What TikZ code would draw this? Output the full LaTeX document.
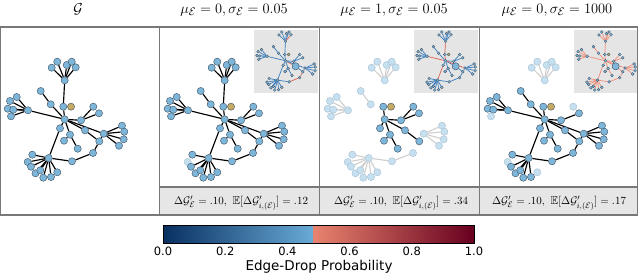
\documentclass[tikz,border=0pt]{standalone}
\usepackage{amssymb}
\usepackage{fontspec}
\newfontfamily\cbfont{DejaVu Sans}
\pgfdeclarelayer{bg}
\pgfdeclarelayer{edges}
\pgfsetlayers{bg,edges,main}
\definecolor{nodec}{RGB}{125,182,217}
\definecolor{nodeb}{RGB}{60,80,100}
\definecolor{tanc}{RGB}{198,170,100}
\definecolor{fadec}{RGB}{198,224,240}
\definecolor{fadeb}{RGB}{165,192,212}
\definecolor{fadee}{RGB}{208,208,208}
\definecolor{framec}{RGB}{120,120,120}
\definecolor{stripc}{RGB}{230,230,230}
\definecolor{insetc}{RGB}{229,229,229}
\definecolor{blueE}{RGB}{55,125,190}
\definecolor{redE}{RGB}{220,95,80}
\definecolor{salE}{RGB}{238,140,120}
\definecolor{cbA}{RGB}{8,48,97}
\definecolor{cbB}{RGB}{40,110,178}
\definecolor{cbC}{RGB}{105,170,214}
\definecolor{cbD}{RGB}{232,132,110}
\definecolor{cbE}{RGB}{200,50,55}
\definecolor{cbF}{RGB}{103,0,31}
\def\nodelist{T/64.7/80.3, t1/57.3/61.7, t2/51.7/67.7, t3/66.7/65, t4/71.7/61.7, t5/75.7/67.3, a/40.7/91, b/50.7/104.3, u/63.3/106.7, g/71/106.7, L/28/110.3, l1/16.7/97, l2/10/101, l3/7.7/108.7, l4/13.3/109.7, l5/11/116.3, C/64.7/119.3, r/93.3/106.7, s/99/113.3, q/81/120.3, c1/60/128.3, c2/70/134.7, d/85/130.3, R/103.7/133.7, r1/122/125.7, r2/124.3/131.7, r3/123.7/139.3, r4/119/145.7, c3/64/140.7, c4/77.7/148.7, w1/99.3/141.3, w2/93/153, w3/72/161.3, B/48.7/158, b1/32.3/154.7, b2/27.7/162, b3/31/166.7, b4/35.5/173.3, b5/40.3/170.3, b6/43.3/177.7, b7/51/177, b8/57.3/172.3}
\def\edgelist{T/t1, T/t2, T/t3, T/t4, T/t5, T/u, u/C, a/b, b/C, L/l1, L/l2, L/l3, L/l4, L/l5, L/C, C/q, q/r, q/s, C/c1, C/c2, C/d, C/R, d/w1, w1/R, w1/w2, w2/w3, w3/B, R/r1, R/r2, R/r3, R/r4, c2/c3, c2/c4, B/c1, B/b1, B/b2, B/b3, B/b4, B/b5, B/b6, B/b7, B/b8}
\newcommand{\drawgraph}[3]{%
  \foreach \n/\x/\y in \nodelist {\node[#2, n\n/.try] (#1\n) at (\x,\y) {};}
  \begin{pgfonlayer}{edges}
  \foreach \a/\b in \edgelist {\draw[#3, e\a\b/.try] (#1\a) -- (#1\b);}
  \end{pgfonlayer}}
\tikzset{
  nd/.style={circle, minimum size=7.2pt, inner sep=0pt, fill=nodec, draw=nodeb, line width=0.4pt},
  ind/.style={circle, minimum size=2.9pt, inner sep=0pt, fill=nodec, draw=nodeb, line width=0.3pt},
  ed/.style={line width=1.15pt, draw=black},
  ie/.style={line width=0.7pt, draw=blueE},
  se/.style={line width=0.7pt, draw=salE},
  fd/.style={fill=fadec, draw=fadeb},
  fe/.style={draw=fadee},
  hid/.style={draw=none},
  redI/.style={draw=redE},
  ng/.style={fill=tanc},
  frame/.style={draw=framec, line width=1.2pt},
  ttl/.style={anchor=base, font=\fontsize{15}{17}\selectfont},
  stt/.style={anchor=base, font=\fontsize{11.4}{13}\selectfont},
  cbl/.style={anchor=base, font=\cbfont\fontsize{11.5}{13}\selectfont},
  cbt/.style={anchor=base, font=\cbfont\fontsize{13.5}{15}\selectfont}
}
\begin{document}
\begin{tikzpicture}[x=1pt, y=-1pt]
\useasboundingbox (0,0) rectangle (640,274);
% frames and strips
\begin{pgfonlayer}{bg}
\fill[white] (0,0) rectangle (640,274);
\fill[insetc] (253.5,29.5) rectangle (317.5,92.5);
\fill[insetc] (413.5,29.5) rectangle (477.5,92.5);
\fill[insetc] (573.5,29.5) rectangle (637,92.5);
\end{pgfonlayer}
\draw[frame] (0.6,27) rectangle (159.5,215);
\draw[frame] (159.5,27) rectangle (319.5,215);
\draw[frame] (319.5,27) rectangle (479.5,215);
\draw[frame] (479.5,27) rectangle (637.5,215);
\draw[frame, fill=stripc] (159.5,187) rectangle (319.5,215);
\draw[frame, fill=stripc] (319.5,187) rectangle (479.5,215);
\draw[frame, fill=stripc] (479.5,187) rectangle (637.5,215);
% titles
\node[ttl] (h1) at (78,13) {$\mathcal{G}$};
\node[ttl] (h2) at (234,13) {$\mu_{\mathcal{E}} = 0, \sigma_{\mathcal{E}} = 0.05$};
\node[ttl] (h3) at (394,13) {$\mu_{\mathcal{E}} = 1, \sigma_{\mathcal{E}} = 0.05$};
\node[ttl] (h4) at (557,13) {$\mu_{\mathcal{E}} = 0, \sigma_{\mathcal{E}} = 1000$};
% strip texts
\node[stt] (s2) at (241,204.5) {$\Delta\mathcal{G}'_{\mathcal{E}} = .10,\ \mathbb{E}[\Delta\mathcal{G}'_{i,(\mathcal{E})}] = .12$};
\node[stt] (s3) at (401,204.5) {$\Delta\mathcal{G}'_{\mathcal{E}} = .10,\ \mathbb{E}[\Delta\mathcal{G}'_{i,(\mathcal{E})}] = .34$};
\node[stt] (s4) at (559,204.5) {$\Delta\mathcal{G}'_{\mathcal{E}} = .10,\ \mathbb{E}[\Delta\mathcal{G}'_{i,(\mathcal{E})}] = .17$};
% panel 1
\begin{scope}
\drawgraph{p1}{nd}{ed}
\end{scope}
% panel 2
\begin{scope}[shift={(160,0)}, nb2/.style=fd, eBb2/.style=hid]
\drawgraph{p2}{nd}{ed}
\end{scope}
\begin{scope}[shift={(253.15,1.15)}, scale=0.5, eTt5/.style=redI, eCd/.style=redI, ew1w2/.style=redI, ew2w3/.style=redI]
\drawgraph{i2}{ind}{ie}
\end{scope}
% panel 3
\begin{scope}[shift={(320,0)},
  nT/.style=fd, nt1/.style=fd, nt2/.style=fd, nt3/.style=fd, nt4/.style=fd, nt5/.style=fd,
  na/.style=fd, nb/.style=fd, nL/.style=fd, nl1/.style=fd, nl2/.style=fd, nl3/.style=fd, nl4/.style=fd, nl5/.style=fd,
  nR/.style=fd, nr1/.style=fd, nr2/.style=fd, nr3/.style=fd, nr4/.style=fd, nw2/.style=fd, nw3/.style=fd,
  nB/.style=fd, nb1/.style=fd, nb2/.style=fd, nb3/.style=fd, nb4/.style=fd, nb5/.style=fd, nb6/.style=fd, nb7/.style=fd, nb8/.style=fd,
  eTt1/.style=fe, eTt2/.style=fe, eTt3/.style=fe, eTt4/.style=fe, eTt5/.style=fe, eab/.style=fe,
  eLl1/.style=fe, eLl2/.style=fe, eLl3/.style=fe, eLl4/.style=fe, eLl5/.style=fe,
  eRr1/.style=fe, eRr2/.style=fe, eRr3/.style=fe, eRr4/.style=fe, ew2w3/.style=fe, ew3B/.style=fe,
  eBb1/.style=fe, eBb2/.style=fe, eBb3/.style=fe, eBb4/.style=fe, eBb5/.style=fe, eBb6/.style=fe, eBb7/.style=fe, eBb8/.style=fe,
  eTu/.style=hid, ebC/.style=hid, eLC/.style=hid, eCR/.style=hid, ew1R/.style=hid, ew1w2/.style=hid, eBc1/.style=hid]
\drawgraph{p3}{nd}{ed}
\end{scope}
\begin{scope}[shift={(413.15,1.15)}, scale=0.5, eTu/.style=redI, euC/.style=redI, eLC/.style=redI, eCR/.style=redI, eBc1/.style=redI]
\drawgraph{i3}{ind}{ie}
\end{scope}
% panel 4
\begin{scope}[shift={(480,0)},
  nT/.style=fd, nt1/.style=fd, nt2/.style=fd, nt3/.style=fd, nt4/.style=fd, nt5/.style=fd,
  eTt1/.style=fe, eTt2/.style=fe, eTt3/.style=fe, eTt4/.style=fe, eTt5/.style=fe, eTu/.style=hid,
  nl5/.style=fd, eLl5/.style=hid, nr/.style=fd, eqr/.style=hid,
  nb2/.style=fd, eBb2/.style=hid, nb8/.style=fd, eBb8/.style=hid]
\drawgraph{p4}{nd}{ed}
\end{scope}
\begin{scope}[shift={(573.15,1.15)}, scale=0.5]
\drawgraph{i4}{ind}{se}
\end{scope}
% colorbar
\shade[left color=cbA, middle color=cbB, right color=cbC] (163,225) rectangle (313,243);
\shade[left color=cbD, middle color=cbE, right color=cbF] (313,225) rectangle (474,243);
\draw[line width=0.5pt] (163,225) rectangle (474,243);
\foreach \v [count=\k from 0] in {0.0,0.2,0.4,0.6,0.8,1.0}
  \node[cbl] (tk\k) at ({163+\k*62.2},255.5) {\v};
\node[cbt] (cbt) at (319,270.5) {Edge-Drop Probability};
\end{tikzpicture}
\end{document}
